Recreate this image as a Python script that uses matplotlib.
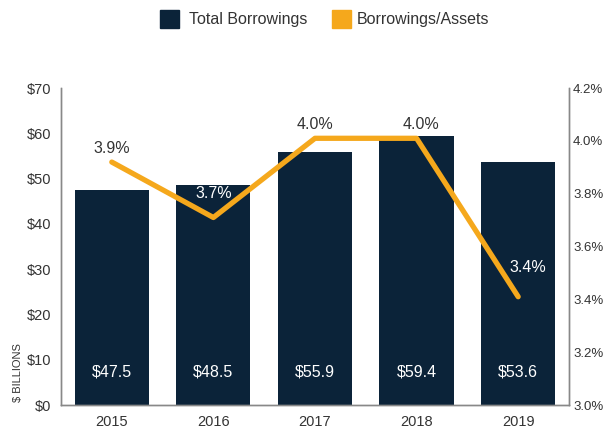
import matplotlib.pyplot as plt

years = ['2015', '2016', '2017', '2018', '2019']
borrowings = [47.5, 48.5, 55.9, 59.4, 53.6]
ratio = [3.92, 3.71, 4.01, 4.01, 3.41]
ratio_labels = ['3.9%', '3.7%', '4.0%', '4.0%', '3.4%']

plt.rcParams['font.family'] = ['Liberation Sans', 'DejaVu Sans']

navy = '#0b2339'
orange = '#f5a81c'
txt = '#333333'

fig = plt.figure(figsize=(6.04, 4.32), dpi=100)
ax = fig.add_axes([0.101, 0.0625, 0.841, 0.7335])
ax2 = ax.twinx()

x = range(len(years))
ax.bar(x, borrowings, width=0.73, color=navy, label='Total Borrowings')
ax.set_xlim(-0.5, 4.5)
ax.set_ylim(0, 70)
ax.set_yticks(range(0, 71, 10))
ax.set_yticklabels(['$%d' % v for v in range(0, 71, 10)])
ax.set_xticks(list(x))
ax.set_xticklabels(years)
for i, v in enumerate(borrowings):
    ax.text(i, 7.3, '$%.1f' % v, color='white', ha='center', va='center', fontsize=11.5)

ax2.plot(x, ratio, color=orange, lw=3.8, solid_capstyle='round', solid_joinstyle='round')
ax2.set_ylim(3.0, 4.2)
ax2.set_yticks([3.0, 3.2, 3.4, 3.6, 3.8, 4.0, 4.2])
ax2.set_yticklabels(['%.1f%%' % v for v in [3.0, 3.2, 3.4, 3.6, 3.8, 4.0, 4.2]])

# label offsets in points (dx, dy)
offsets = [(0, 10), (0, 17), (0, 10), (3, 10), (7, 21)]
colors = [txt, 'white', txt, txt, 'white']
for i, (v, lab) in enumerate(zip(ratio, ratio_labels)):
    ax2.annotate(lab, (i, v), xytext=offsets[i], textcoords='offset points',
                 color=colors[i], ha='center', va='center', fontsize=11.5)

for a in (ax, ax2):
    a.spines['top'].set_visible(False)
    for s in ('left', 'right', 'bottom'):
        a.spines[s].set_color('#888888')
        a.spines[s].set_linewidth(1)
    a.tick_params(length=0, labelsize=10.5, colors=txt, pad=7)
ax2.tick_params(labelsize=9.5, pad=3)

ax.text(-0.085, 0.01, '$ BILLIONS', transform=ax.transAxes, rotation=90,
        ha='center', va='bottom', fontsize=8, color=txt)

# legend
fig.patches.append(plt.Rectangle((0.265, 0.935), 0.031, 0.042, transform=fig.transFigure, color=navy))
fig.text(0.313, 0.956, 'Total Borrowings', fontsize=11.5, color=txt, va='center')
fig.patches.append(plt.Rectangle((0.55, 0.935), 0.031, 0.042, transform=fig.transFigure, color=orange))
fig.text(0.591, 0.956, 'Borrowings/Assets', fontsize=11.5, color=txt, va='center')

fig.savefig('out.png', dpi=100)
